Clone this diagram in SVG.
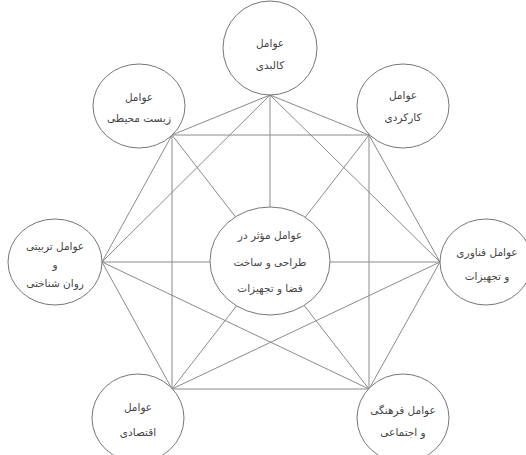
<svg xmlns="http://www.w3.org/2000/svg" width="526" height="455" viewBox="0 0 526 455">
<style>
.n ellipse{fill:#fff;stroke:#777;stroke-width:1}
.c line{stroke:#8a8a8a;stroke-width:1}
text{font-family:"DejaVu Sans","Noto Sans",sans-serif;font-size:10.5px;fill:#444;text-anchor:middle}
</style>
<rect width="526" height="455" fill="#fff"/>
<g id="connectors" class="c">
<line x1="270" y1="95" x2="172" y2="135"/>
<line x1="270" y1="95" x2="369" y2="135"/>
<line x1="270" y1="95" x2="102" y2="262"/>
<line x1="270" y1="95" x2="440" y2="262"/>
<line x1="270" y1="95" x2="270" y2="210"/>
<line x1="172" y1="135" x2="369" y2="135"/>
<line x1="172" y1="135" x2="172" y2="389"/>
<line x1="172" y1="135" x2="102" y2="262"/>
<line x1="172" y1="135" x2="369" y2="389"/>
<line x1="369" y1="135" x2="369" y2="389"/>
<line x1="369" y1="135" x2="440" y2="262"/>
<line x1="369" y1="135" x2="172" y2="389"/>
<line x1="102" y1="262" x2="440" y2="262"/>
<line x1="102" y1="262" x2="172" y2="389"/>
<line x1="102" y1="262" x2="369" y2="389"/>
<line x1="440" y1="262" x2="369" y2="389"/>
<line x1="440" y1="262" x2="172" y2="389"/>
<line x1="172" y1="389" x2="369" y2="389"/>
</g>
<g id="n-top" class="n"><ellipse cx="270" cy="48" rx="47" ry="47"/><text x="270" y="47">عوامل</text><text x="270" y="69">کالبدی</text></g>
<g id="n-ul" class="n"><ellipse cx="139" cy="106" rx="46" ry="42"/><text x="139" y="101">عوامل</text><text x="139" y="122">زیست محیطی</text></g>
<g id="n-ur" class="n"><ellipse cx="403" cy="106" rx="46" ry="42"/><text x="403" y="99">عوامل</text><text x="403" y="121">کارکردی</text></g>
<g id="n-l" class="n"><ellipse cx="55" cy="262" rx="47" ry="43"/><text x="55" y="250">عوامل تربیتی</text><text x="55" y="268">و</text><text x="55" y="287">روان شناختی</text></g>
<g id="n-r" class="n"><ellipse cx="486" cy="262" rx="46" ry="43"/><text x="487" y="256">عوامل فناوری</text><text x="487" y="280">و تجهیزات</text></g>
<g id="n-ll" class="n"><ellipse cx="138" cy="418" rx="46" ry="44"/><text x="138" y="411">عوامل</text><text x="138" y="436">اقتصادی</text></g>
<g id="n-lr" class="n"><ellipse cx="403" cy="418" rx="46" ry="44"/><text x="403" y="414">عوامل فرهنگی</text><text x="403" y="436">و اجتماعی</text></g>
<g id="n-center" class="n"><ellipse cx="270" cy="261" rx="60" ry="54"/><text x="270" y="239">عوامل مؤثر در</text><text x="270" y="266">طراحی و ساخت</text><text x="270" y="292">فضا و تجهیزات</text></g>
</svg>
